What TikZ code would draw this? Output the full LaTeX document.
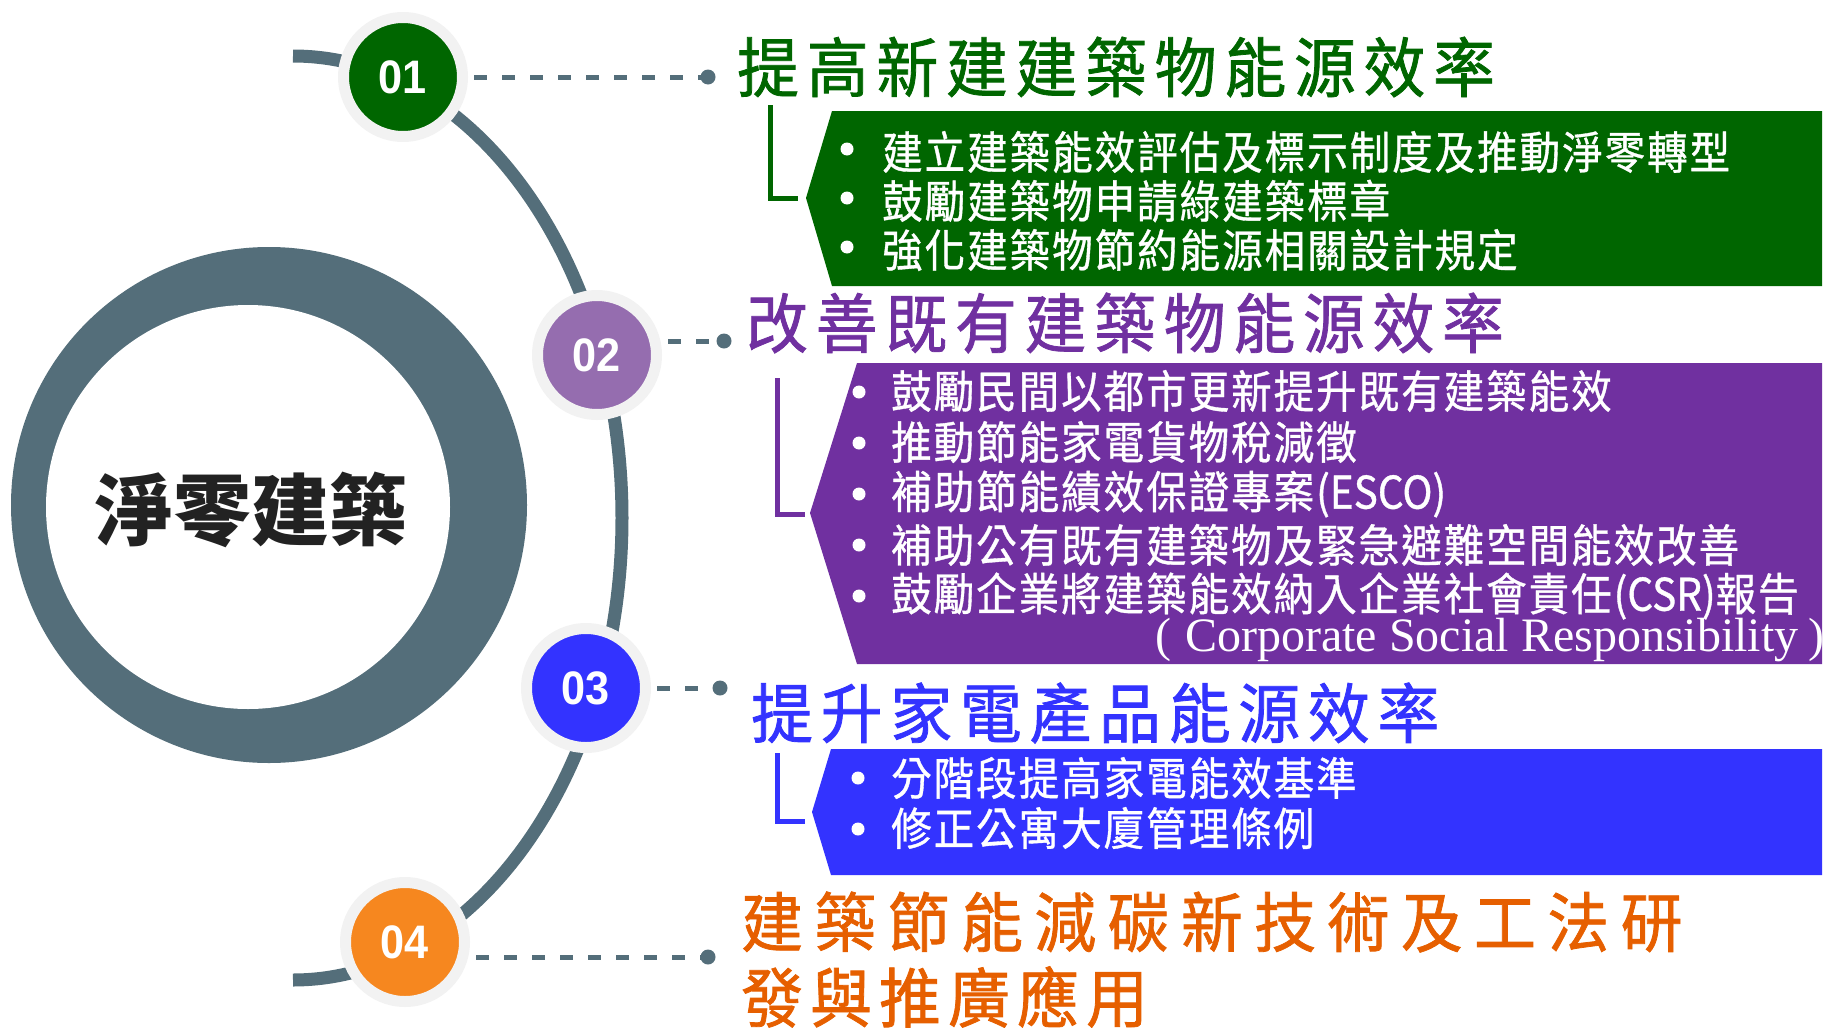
\documentclass[tikz,border=0pt]{standalone}
\usepackage{fontspec}
\setmainfont{Liberation Sans}
\newfontfamily\cjk{Noto Sans CJK TC}
\newfontfamily\cjkh{Noto Sans CJK TC}[FakeStretch=0.95, FakeBold=1.2]
\newfontfamily\cjkt{Noto Sans CJK TC}[FakeStretch=0.9, FakeBold=0.8]
\newfontfamily\numf{Liberation Sans}[FakeStretch=0.92]
\newfontfamily\serifr{Liberation Serif}
\definecolor{slate}{HTML}{546E7A}
\definecolor{ringgray}{HTML}{F2F2F2}
\definecolor{cgreen}{HTML}{006600}
\definecolor{cpurpleL}{HTML}{956DAF}
\definecolor{cpurple}{HTML}{7030A0}
\definecolor{cblue}{HTML}{3333FF}
\definecolor{corangeL}{HTML}{F6871F}
\definecolor{corange}{HTML}{E65F00}
\definecolor{darktext}{HTML}{222222}
\def\spaced#1#2{\def\spk{#1}\spacedA#2\relax}
\def\spacedA#1{\ifx\relax#1\else#1\kern\spk\relax\expandafter\spacedA\fi}
\tikzset{
  numc/.style={circle, minimum size=119pt, inner sep=0pt, draw=ringgray, line width=11pt,
    text=white, font=\numf\fontsize{47}{47}\selectfont\bfseries},
  dashline/.style={draw=slate, line width=5pt, dash pattern=on 13pt off 15pt, shorten <=6pt},
  dotc/.style={circle, fill=slate, minimum size=15pt, inner sep=0pt},
  heading/.style={anchor=west, inner sep=0pt, font=\cjkh\fontsize{65}{65}\selectfont},
  bodytxt/.style={anchor=west, inner sep=0pt, text=white, font=\cjkt\fontsize{45}{45}\selectfont},
  bul/.style={circle, fill=white, minimum size=13pt, inner sep=0pt},
  bracketline/.style={line width=5pt},
}
\begin{document}
\begin{tikzpicture}[x=1pt, y=-1pt]
\useasboundingbox (0,0) rectangle (1824,1028);
% arc through the numbered circles
\draw[slate, line width=13pt] (293,56) arc[start angle=90, end angle=-90, x radius=329pt, y radius=462pt];
% big ring
\fill[slate] (269,505) circle[radius=258pt];
\fill[white] (248,507) circle[radius=202pt];
\node[font=\cjk\bfseries\fontsize{78}{78}\selectfont, text=darktext, inner sep=0pt] (center) at (251,510) {淨零建築};
% numbered circles
\node[numc, fill=cgreen] (n1) at (403,77) {01};
\node[numc, fill=cpurpleL] (n2) at (597,355) {02};
\node[numc, fill=cblue] (n3) at (586,688) {03};
\node[numc, fill=corangeL] (n4) at (405,942) {04};
% dots
\node[dotc] (d1) at (708,77) {};
\node[dotc] (d2) at (724,341) {};
\node[dotc] (d3) at (720,688) {};
\node[dotc] (d4) at (708,957) {};
% dashed connectors
\draw[dashline] (n1.east) -- (d1.center);
\draw[dashline] (n2.east |- d2) -- (d2.center);
\draw[dashline] (n3.east) -- (d3.center);
\draw[dashline] (n4.east |- d4) -- (d4.center);
% brackets
\draw[bracketline, cgreen] (770,105) -- (770,198) -- (798,198);
\draw[bracketline, cpurple] (777,378) -- (777,514) -- (805,514);
\draw[bracketline, cblue] (777,753) -- (777,821) -- (805,821);
% boxes
\fill[cgreen] (832,111) -- (1822,111) -- (1822,286) -- (832,286) -- (806,198) -- cycle;
\fill[cpurple] (857,363) -- (1822,363) -- (1822,664) -- (857,664) -- (810,513) -- cycle;
\fill[cblue] (831,749) -- (1822,749) -- (1822,875) -- (831,875) -- (812,812) -- cycle;
% headings
\node[heading, text=cgreen] (h1) at (737,67) {\spaced{7.85pt}{提高新建建築物能源效率}};
\node[heading, text=cpurple] (h2) at (746,323) {\spaced{7.85pt}{改善既有建築物能源效率}};
\node[heading, text=cblue] (h3) at (751,713) {\spaced{7.85pt}{提升家電產品能源效率}};
\node[heading, text=corange] (h4) at (741,922) {\spaced{11.55pt}{建築節能減碳新技術及工法研}};
\node[heading, text=corange] (h4b) at (741,997) {\spaced{7.25pt}{發與推廣應用}};
% green items
\node[bul] (g1b) at (847,149) {};
\node[bul] (g2b) at (847,198) {};
\node[bul] (g3b) at (847,247) {};
\node[bodytxt] (g1) at (882,152) {\spaced{2pt}{建立建築能效評估及標示制度及推動淨零轉型}};
\node[bodytxt] (g2) at (882,201) {\spaced{2pt}{鼓勵建築物申請綠建築標章}};
\node[bodytxt] (g3) at (882,250) {\spaced{2pt}{強化建築物節約能源相關設計規定}};
% purple items
\node[bul] (p1b) at (859,392) {};
\node[bul] (p2b) at (859,443) {};
\node[bul] (p3b) at (859,494) {};
\node[bul] (p4b) at (859,545) {};
\node[bul] (p5b) at (859,596) {};
\node[bodytxt] (p1) at (891,391) {\spaced{2pt}{鼓勵民間以都市更新提升既有建築能效}};
\node[bodytxt] (p2) at (891,442) {\spaced{2pt}{推動節能家電貨物稅減徵}};
\node[bodytxt] (p3) at (891,494) {\spaced{2pt}{補助節能績效保證專案}(ESCO)};
\node[bodytxt] (p4) at (891,545) {\spaced{2pt}{補助公有既有建築物及緊急避難空間能效改善}};
\node[bodytxt] (p5) at (891,596) {\spaced{2pt}{鼓勵企業將建築能效納入企業社會責任}(CSR)\spaced{2pt}{報告}};
\node[anchor=west, inner sep=0pt, text=white, font=\serifr\fontsize{48}{48}\selectfont] (csr) at (1155,640) {(\hspace{14pt}Corporate Social Responsibility\hspace{10pt})};
% blue items
\node[bul] (b1b) at (858,778) {};
\node[bul] (b2b) at (858,829) {};
\node[bodytxt] (b1) at (891,778) {\spaced{2pt}{分階段提高家電能效基準}};
\node[bodytxt] (b2) at (891,828) {\spaced{2pt}{修正公寓大廈管理條例}};
\end{tikzpicture}
\end{document}
